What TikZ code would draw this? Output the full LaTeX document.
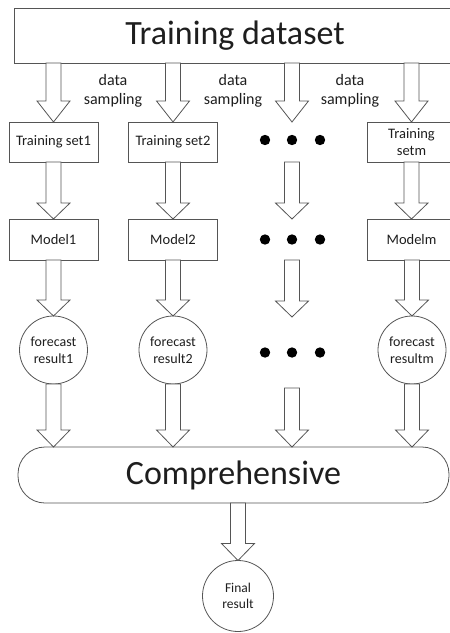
\documentclass[tikz,border=0pt]{standalone}
\usepackage{fontspec}
\setmainfont{Carlito}
\usetikzlibrary{calc}

\definecolor{edge}{RGB}{85,85,85}
\definecolor{ink}{RGB}{30,30,30}

% hollow block arrow pointing down: [head length]{start}{tip}
\newcommand\downarrowblock[3][17pt]{%
  \draw[blockarr] let \p1=(#2), \p2=(#3) in
    (\x2-7.5pt,\y1) -- (\x2-7.5pt,\y2+#1) -- (\x2-16.5pt,\y2+#1) -- (\x2,\y2)
    -- (\x2+16.5pt,\y2+#1) -- (\x2+7.5pt,\y2+#1) -- (\x2+7.5pt,\y1) -- cycle;}

\tikzset{
  blockarr/.style={draw=edge, line width=0.8pt, fill=white, line join=miter},
  box/.style={draw=edge, line width=0.8pt, rectangle, inner sep=0pt, outer sep=0pt,
              text=ink, align=center},
  smallbox/.style={box, minimum width=89pt, minimum height=40pt,
              font=\fontsize{14.5}{17}\selectfont},
  result/.style={draw=edge, line width=0.8pt, circle, inner sep=0pt, outer sep=0pt,
              minimum size=68pt, text=ink, align=center,
              font=\fontsize{14}{16.5}\selectfont},
  label/.style={text=ink, align=center, font=\fontsize{16}{19}\selectfont},
  gap/.style={inner sep=0pt, outer sep=0pt, minimum width=70pt},
  dot/.style={fill=black, draw=none}
}

\begin{document}
\begin{tikzpicture}[x=1pt, y=-1pt]
\useasboundingbox (0,0) rectangle (450,633);
\clip (0,0) rectangle (450,633);

% top: whole training data
\node[box, minimum width=442pt, minimum height=55pt,
      font=\fontsize{34}{36}\selectfont] (ds) at (235,35.5) {Training dataset};

% sampled training sets
\node[smallbox] (ts1) at (53.5,142) {Training set1};
\node[smallbox] (ts2) at (173,142) {Training set2};
\node[gap, minimum height=40pt] (g1) at (292,142) {};
\node[smallbox] (tsm) at (411.5,142) {Training\\setm};

% models
\node[smallbox, minimum height=41pt] (m1) at (53.5,239.5) {Model1};
\node[smallbox, minimum height=41pt] (m2) at (173,239.5) {Model2};
\node[gap, minimum height=41pt] (g2) at (292,239.5) {};
\node[smallbox, minimum height=41pt] (mm) at (411.5,239.5) {Modelm};

% forecast results
\node[result] (f1) at (53.5,350) {forecast\\result1};
\node[result] (f2) at (173,350) {forecast\\result2};
\node[gap, minimum height=71pt] (g3) at (292,352.5) {};
\node[result] (fm) at (412,350) {forecast\\resultm};

% combination and final output
\node[box, rounded corners=27pt, minimum width=431pt, minimum height=56pt,
      font=\fontsize{34}{36}\selectfont] (comp) at (233.5,475) {Comprehensive};
\node[result, minimum size=71pt, font=\fontsize{13.5}{16.5}\selectfont] (fin) at (238,596) {Final\\result};

% sampling labels
\node[label] (s1) at (113,91) {data\\sampling};
\node[label] (s2) at (233,91) {data\\sampling};
\node[label] (s3) at (350,91) {data\\sampling};

% ellipsis dots for the omitted columns
\foreach \g/\dy in {g1/-2, g2/0, g3/0} {
  \foreach \dx in {-27,0,28}
    \fill[dot] ($(\g)+(\dx,\dy)$) circle (5.2pt);
}

% sampling arrows
\downarrowblock[21pt]{ts1.north |- ds.south}{ts1.north}
\downarrowblock[21pt]{ts2.north |- ds.south}{ts2.north}
\downarrowblock[21pt]{g1.north |- ds.south}{g1.north}
\downarrowblock[21pt]{tsm.north |- ds.south}{tsm.north}

% training arrows
\downarrowblock[16pt]{ts1.south}{m1.north}
\downarrowblock[16pt]{ts2.south}{m2.north}
\downarrowblock[16pt]{g1.south}{g2.north}
\downarrowblock[16pt]{tsm.south}{mm.north}

% prediction arrows
\downarrowblock[16pt]{m1.south}{f1.north}
\downarrowblock[16pt]{m2.south}{f2.north}
\downarrowblock[16pt]{g2.south}{g3.north -| g2.south}
\downarrowblock[16pt]{mm.south}{fm.north}

% arrows into the combination
\downarrowblock{f1.south}{f1.south |- comp.north}
\downarrowblock{f2.south}{f2.south |- comp.north}
\downarrowblock{g3.south}{g3.south |- comp.north}
\downarrowblock{fm.south}{fm.south |- comp.north}

% final arrow
\downarrowblock{fin.north |- comp.south}{fin.north}
\end{tikzpicture}
\end{document}
